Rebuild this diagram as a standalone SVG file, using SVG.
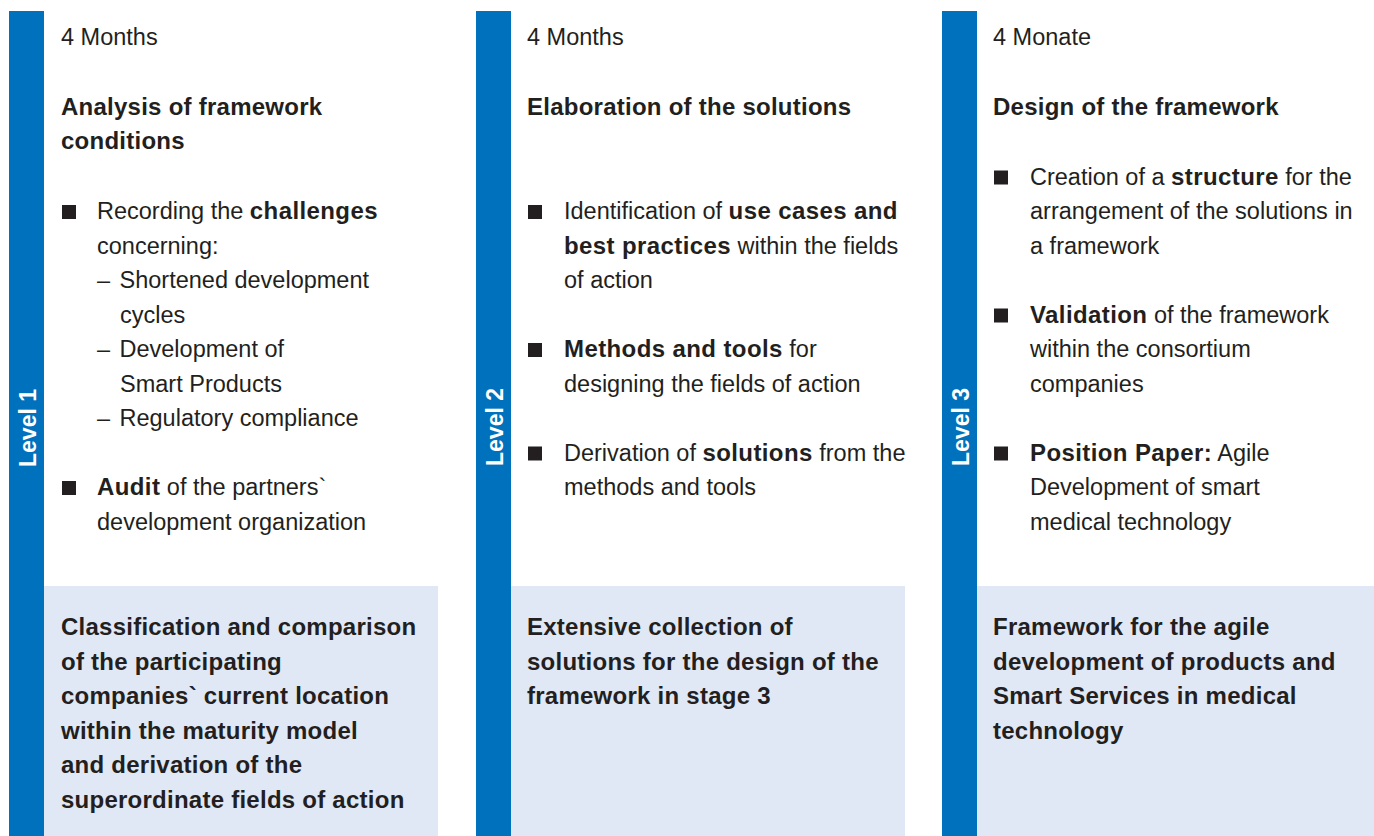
<svg xmlns="http://www.w3.org/2000/svg" width="1374" height="836" viewBox="0 0 1374 836">
<style>
  text { font-family: "Liberation Sans", Arial, Helvetica, sans-serif; fill: #231F20; }
  .r { font-size: 23.5px; font-weight: 400; }
  .b { font-size: 24px; font-weight: 700; letter-spacing: 0.25px; }
  .bi { font-size: 24px; font-weight: 700; letter-spacing: 0.4px; }
  .bar { fill: #0071BC; }
  .box { fill: #E1E8F5; }
  .sq { fill: #231F20; }
  .lvl { font-size: 23px; font-weight: 700; fill: #FFFFFF; text-anchor: middle; }
</style>
<rect x="0" y="0" width="1374" height="836" fill="#FFFFFF"/>

<g id="level1">
  <rect class="bar" x="9" y="11" width="35" height="825"/>
  <text class="lvl" transform="translate(36,428) rotate(-90)">Level 1</text>
  <rect class="box" x="44" y="586" width="394" height="250"/>
  <text class="r" x="61" y="45">4 Months</text>
  <text class="b" x="61" y="115">Analysis of framework</text>
  <text class="b" x="61" y="149">conditions</text>
  <rect class="sq" x="62" y="205" width="14" height="14"/>
  <text class="r" x="97" y="219">Recording the <tspan class="bi">challenges</tspan></text>
  <text class="r" x="97" y="253.5">concerning:</text>
  <text class="r" x="97" y="288">–</text>
  <text class="r" x="119.5" y="288">Shortened development</text>
  <text class="r" x="120" y="322.5">cycles</text>
  <text class="r" x="97" y="357">–</text>
  <text class="r" x="119.5" y="357">Development of</text>
  <text class="r" x="120" y="391.5">Smart Products</text>
  <text class="r" x="97" y="426">–</text>
  <text class="r" x="119.5" y="426">Regulatory compliance</text>
  <rect class="sq" x="62" y="481" width="14" height="14"/>
  <text class="r" x="97" y="495"><tspan class="bi">Audit</tspan> of the partners`</text>
  <text class="r" x="97" y="529.5">development organization</text>
  <text class="b" x="61" y="635">Classification and comparison</text>
  <text class="b" x="61" y="669.5">of the participating</text>
  <text class="b" x="61" y="704">companies` current location</text>
  <text class="b" x="61" y="738.5">within the maturity model</text>
  <text class="b" x="61" y="773">and derivation of the</text>
  <text class="b" x="61" y="807.5">superordinate fields of action</text>
</g>

<g id="level2">
  <rect class="bar" x="476" y="11" width="35" height="825"/>
  <text class="lvl" transform="translate(503,427) rotate(-90)">Level 2</text>
  <rect class="box" x="511" y="586" width="394" height="250"/>
  <text class="r" x="527" y="45">4 Months</text>
  <text class="b" x="527" y="115">Elaboration of the solutions</text>
  <rect class="sq" x="528" y="205" width="14" height="14"/>
  <text class="r" x="564" y="219">Identification of <tspan class="bi">use cases and</tspan></text>
  <text class="r" x="564" y="253.5"><tspan class="bi">best practices</tspan> within the fields</text>
  <text class="r" x="564" y="288">of action</text>
  <rect class="sq" x="528" y="343" width="14" height="14"/>
  <text class="r" x="564" y="357"><tspan class="bi">Methods and tools</tspan> for</text>
  <text class="r" x="564" y="391.5">designing the fields of action</text>
  <rect class="sq" x="528" y="446.5" width="14" height="14"/>
  <text class="r" x="564" y="460.5">Derivation of <tspan class="bi">solutions</tspan> from the</text>
  <text class="r" x="564" y="495">methods and tools</text>
  <text class="b" x="527" y="635">Extensive collection of</text>
  <text class="b" x="527" y="669.5">solutions for the design of the</text>
  <text class="b" x="527" y="704">framework in stage 3</text>
</g>

<g id="level3">
  <rect class="bar" x="942" y="11" width="35" height="825"/>
  <text class="lvl" transform="translate(969,427) rotate(-90)">Level 3</text>
  <rect class="box" x="977" y="586" width="397" height="250"/>
  <text class="r" x="993" y="45">4 Monate</text>
  <text class="b" x="993" y="115">Design of the framework</text>
  <rect class="sq" x="994" y="170.5" width="14" height="14"/>
  <text class="r" x="1030" y="184.5">Creation of a <tspan class="bi">structure</tspan> for the</text>
  <text class="r" x="1030" y="219">arrangement of the solutions in</text>
  <text class="r" x="1030" y="253.5">a framework</text>
  <rect class="sq" x="994" y="308.5" width="14" height="14"/>
  <text class="r" x="1030" y="322.5"><tspan class="bi">Validation</tspan> of the framework</text>
  <text class="r" x="1030" y="357">within the consortium</text>
  <text class="r" x="1030" y="391.5">companies</text>
  <rect class="sq" x="994" y="446.5" width="14" height="14"/>
  <text class="r" x="1030" y="460.5"><tspan class="bi">Position Paper:</tspan> Agile</text>
  <text class="r" x="1030" y="495">Development of smart</text>
  <text class="r" x="1030" y="529.5">medical technology</text>
  <text class="b" x="993" y="635">Framework for the agile</text>
  <text class="b" x="993" y="669.5">development of products and</text>
  <text class="b" x="993" y="704">Smart Services in medical</text>
  <text class="b" x="993" y="738.5">technology</text>
</g>

<g id="connectors"></g>
</svg>
